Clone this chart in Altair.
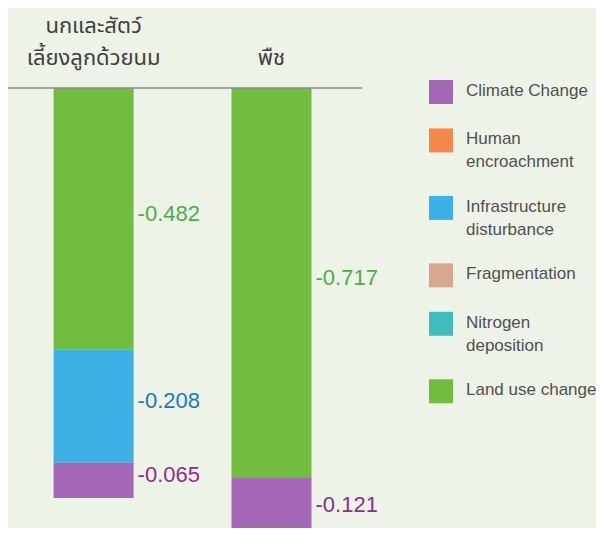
import altair as alt
import pandas as pd

# ---- data ----
groups = ["นกและสัตว์เลี้ยงลูกด้วยนม", "พืช"]
header_top = ["นกและสัตว์", ""]
header_bottom = ["เลี้ยงลูกด้วยนม", "พืช"]

bird_causes = ["Land use change", "Infrastructure disturbance", "Climate Change"]
bird_values = [-0.482, -0.208, -0.065]
plant_causes = ["Land use change", "Climate Change"]
plant_values = [-0.717, -0.121]

legend_causes = ["Climate Change", "Human encroachment", "Infrastructure disturbance",
                 "Fragmentation", "Nitrogen deposition", "Land use change"]
legend_labels = ["Climate Change", "Human\nencroachment", "Infrastructure\ndisturbance",
                 "Fragmentation", "Nitrogen\ndeposition", "Land use change"]
cause_colors = ["#a466b6", "#f5884a", "#3cb1e5", "#d8a88e", "#40bcbf", "#70bd3f"]

label_causes = ["Land use change", "Infrastructure disturbance", "Climate Change"]
label_colors = ["#4cae46", "#1b78bd", "#8f2c8f"]

# ---- tables ----
rows = []
for gi, (causes, vals) in enumerate([(bird_causes, bird_values), (plant_causes, plant_values)]):
    top = 0.0
    for c, v in zip(causes, vals):
        rows.append(dict(group=groups[gi], gi=gi, cause=c, value=v,
                         y0=top, y1=top + v, mid=top + v / 2, label=f"{v:.3f}"))
        top += v
df = pd.DataFrame(rows)

heads = pd.DataFrame({"gi": [0, 1], "top": header_top, "bottom": header_bottom})

leg = pd.DataFrame({
    "cause": legend_causes,
    "label": legend_labels,
    "order": list(range(len(legend_causes))),
    "lines": [l.count("\n") + 1 for l in legend_labels],
})

W, H = 588, 520
xscale = alt.Scale(domain=[-0.4530, 2.7956], nice=False, zero=False)
yscale = alt.Scale(domain=[-0.8103, 0.1473], nice=False, zero=False)
lscale = alt.Scale(domain=[-4.421, 22.947], nice=False, zero=False, reverse=True)
cscale = alt.Scale(domain=legend_causes, range=cause_colors)

base = alt.Chart(df)

bars = base.mark_bar(size=80).encode(
    x=alt.X("gi:Q", scale=xscale, axis=None),
    y=alt.Y("y0:Q", scale=yscale, axis=None),
    y2="y1:Q",
    color=alt.Color("cause:N", scale=cscale, legend=None),
)

vlabels = base.mark_text(align="left", baseline="middle", dx=44, dy=-5, fontSize=22,
                         font="Liberation Sans").encode(
    x=alt.X("gi:Q", scale=xscale, axis=None),
    y=alt.Y("mid:Q", scale=yscale, axis=None),
    text="label:N",
    fill=alt.Fill("cause:N", scale=alt.Scale(domain=label_causes, range=label_colors), legend=None),
)

rule = alt.Chart(pd.DataFrame({"v": [0]})).mark_rule(color="#8c8c8c", strokeWidth=1.3).encode(
    x=alt.value(0), x2=alt.value(354),
    y=alt.Y("v:Q", scale=yscale, axis=None),
)

head1 = alt.Chart(heads).mark_text(baseline="middle", align="center", fontSize=22,
                                   color="#404040", font="Noto Sans Thai").encode(
    x=alt.X("gi:Q", scale=xscale, axis=None), y=alt.value(18), text="top:N")
head2 = alt.Chart(heads).mark_text(baseline="middle", align="center", fontSize=22,
                                   color="#404040", font="Noto Sans Thai").encode(
    x=alt.X("gi:Q", scale=xscale, axis=None), y=alt.value(50), text="bottom:N")

legbase = alt.Chart(leg).transform_calculate(
    units="datum.lines + 1.55"
).transform_window(
    cum="sum(units)", sort=[alt.SortField("order")], frame=[None, 0]
).transform_calculate(pos="datum.cum - datum.units")

squares = legbase.mark_square(size=576, opacity=1).encode(
    x=alt.value(433),
    y=alt.Y("pos:Q", scale=lscale, axis=None),
    color=alt.Color("cause:N", scale=cscale, legend=None),
)
legtext = legbase.mark_text(align="left", baseline="alphabetic", dy=4, fontSize=17,
                            lineBreak="\n", lineHeight=23, color="#505050",
                            font="Liberation Sans").encode(
    x=alt.value(458),
    y=alt.Y("pos:Q", scale=lscale, axis=None),
    text="label:N",
)

chart = alt.layer(bars, vlabels, rule, head1, head2, squares, legtext).resolve_scale(
    y="independent"
).properties(
    width=W, height=H, padding=0,
    autosize=alt.AutoSizeParams(type="none"),
    background="#edf4e7",
).configure_view(stroke=None)

chart.save("out.html", embed_options={"renderer": "svg", "actions": False})
